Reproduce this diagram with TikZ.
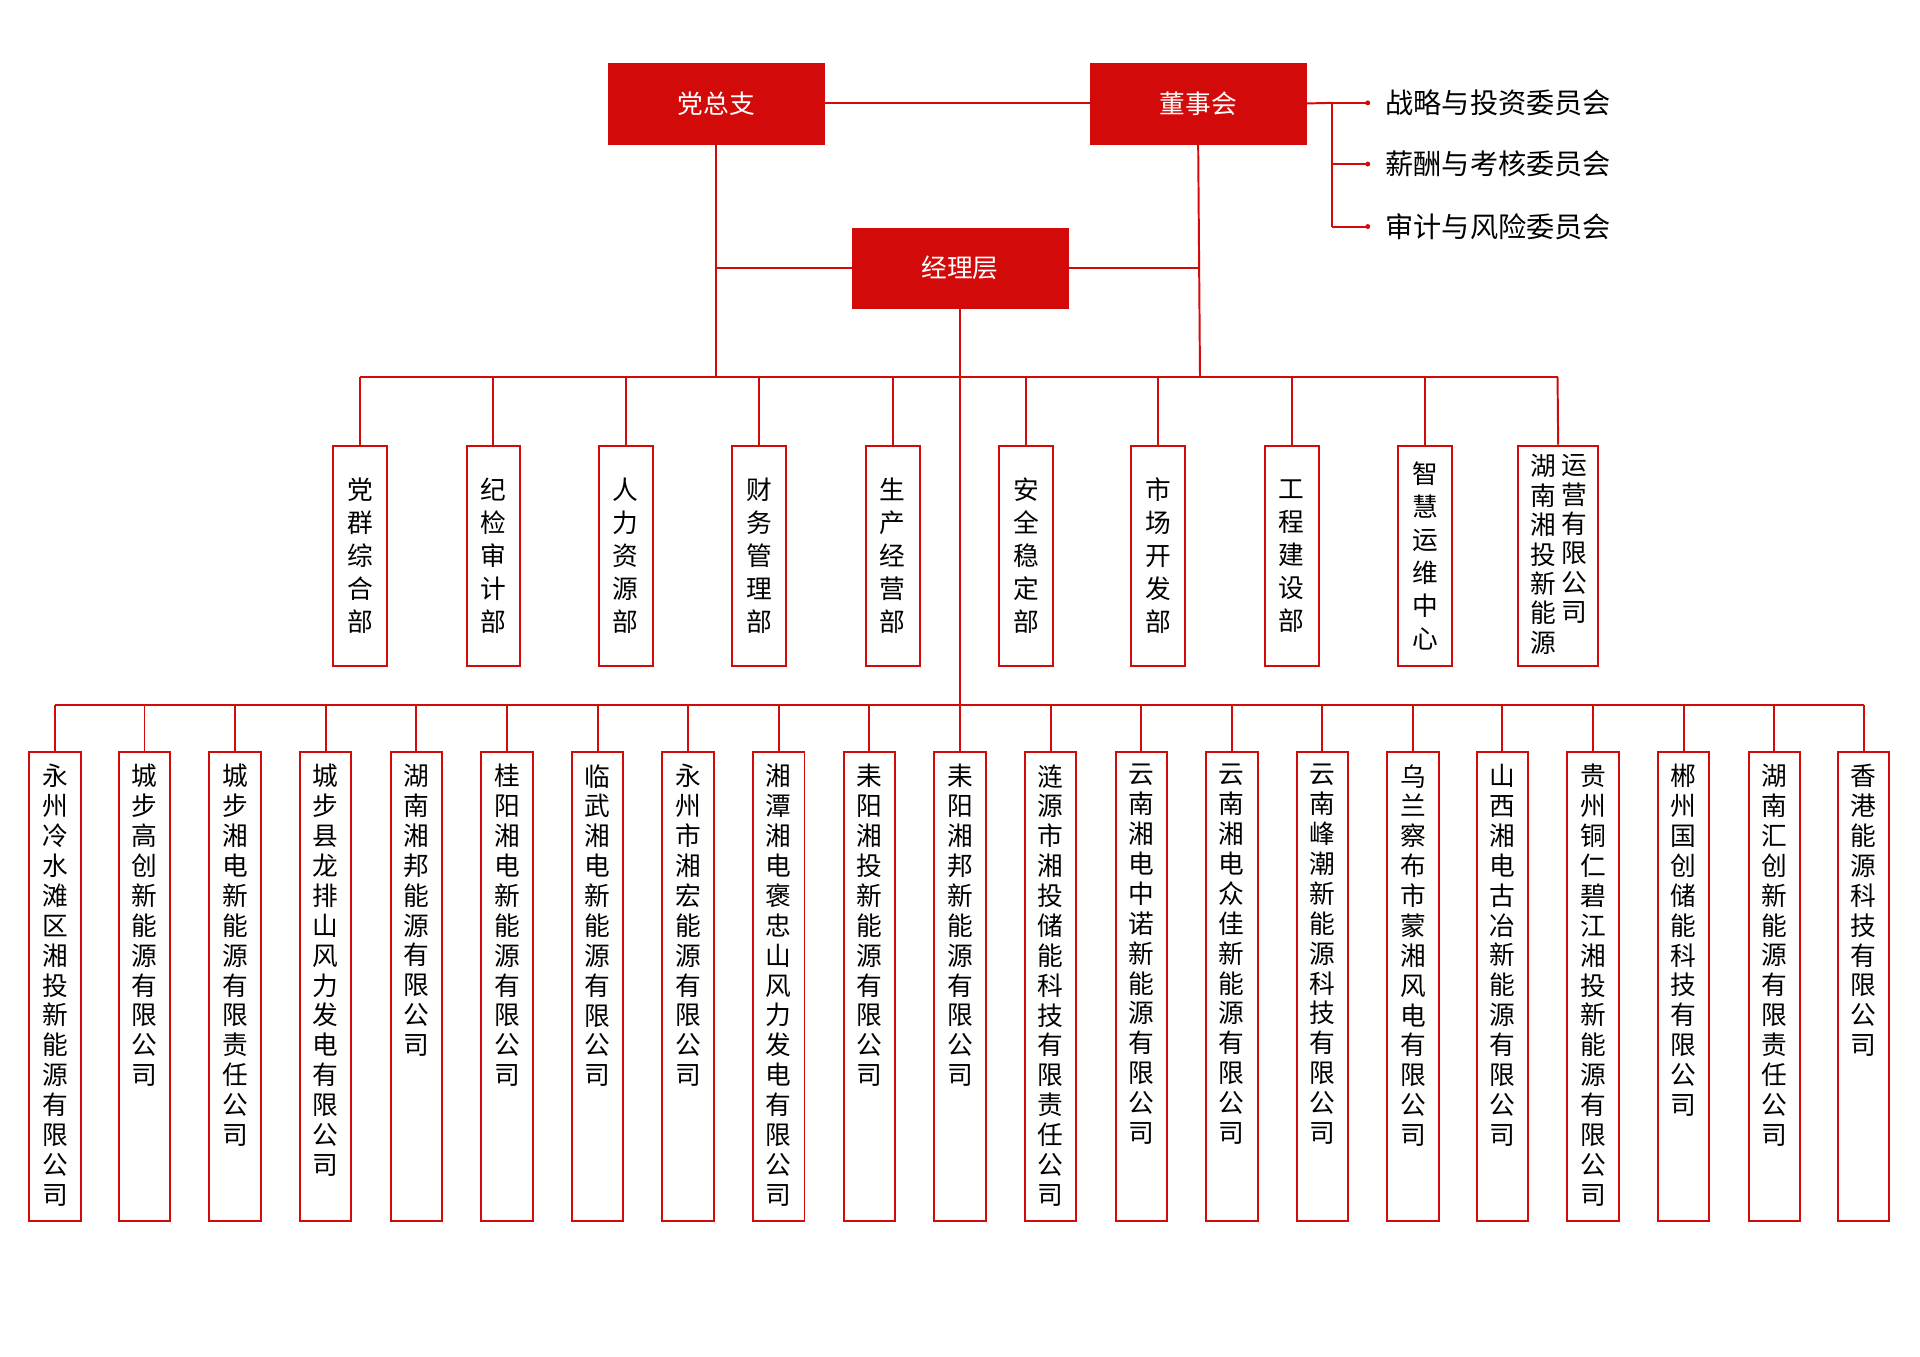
\documentclass[tikz,border=0pt]{standalone}
\usepackage{fontspec}
\setmainfont{Noto Sans CJK SC}
\ExplSyntaxOn
\cs_new_protected:Npn \vtxt #1 {\tl_set:Nx \l_tmpa_tl {#1}\tl_map_inline:Nn \l_tmpa_tl {##1\par}}
\ExplSyntaxOff
\definecolor{hred}{HTML}{D20A0A}
\tikzset{
  rbox/.style={fill=hred,draw=hred,text=white,minimum width=176pt,minimum height=66pt,font=\fontsize{21}{24}\selectfont},
  dbox/.style={draw=hred,line width=1.6pt,fill=white,minimum width=44pt,minimum height=180pt,inner sep=0pt},
  sbox/.style={draw=hred,line width=1.6pt,fill=white,minimum width=42pt,minimum height=383pt,inner sep=0pt},
  dtxt/.style={text width=24pt,align=center,inner sep=0pt,font=\fontsize{21}{27}\selectfont},
  stxt/.style={text width=24pt,align=center,inner sep=0pt,font=\fontsize{21}{24.4}\selectfont,anchor=north},
  ln/.style={draw=hred,line width=1.6pt},
}
\begin{document}
\begin{tikzpicture}[x=1pt,y=-1pt]
\useasboundingbox (0,0) rectangle (1568,1108);
\node[rbox] (dzz) at (585,84.5) {党总支};
\node[rbox] (dsh) at (978.5,84.5) {董事会};
\node[rbox] (jlc) at (784,219) {经理层};
\draw[ln] (dzz) -- (dsh);
% committees
\coordinate (cb) at (1088,84);
\draw[ln] (dsh.east) -- (cb);
\foreach \yy/\t [count=\i] in {84/战略与投资委员会,134/薪酬与考核委员会,185/审计与风险委员会}{
  \coordinate (cs\i) at (1088,\yy);
  \coordinate (ce\i) at (1117,\yy);
  \draw[ln] (cs\i) -- (ce\i);
  \fill[hred] (ce\i) circle (2pt);
  \node[anchor=west,font=\fontsize{23}{26}\selectfont] (cm\i) at (1128,\yy) {\t};
}
\draw[ln] (cb) -- (cs3);
% trunk lines
\coordinate (bL) at (585,308);
\coordinate (bR) at (980,308);
\draw[ln] (dzz.south) -- (bL);
\draw[ln] (dsh.south) -- (bR);
\draw[ln] (jlc.west) -- (585,219);
\draw[ln] (jlc.east) -- (980,219);
\coordinate (sb) at (784,576);
\draw[ln] (jlc.south) -- (sb);
% departments
\draw[ln] (294,308) -- (1272,308);
\foreach \xx/\t [count=\i] in {294/党群综合部,403/纪检审计部,511/人力资源部,620/财务管理部,729/生产经营部,838/安全稳定部,946/市场开发部,1055/工程建设部,1164/智慧运维中心}{
  \node[dbox] (d\i) at (\xx,454) {};
  \draw[ln] (\xx,308) -- (d\i.north);
  \node[dtxt] at (d\i.center) {\vtxt{\t}};
}
\node[dbox,minimum width=65pt] (d10) at (1272.5,454) {};
\draw[ln] (1272,308) -- (d10.north);
\node[stxt,font=\fontsize{21}{24}\selectfont] at (1260,371) {\vtxt{湖南湘投新能源}};
\node[stxt,font=\fontsize{21}{24}\selectfont] at (1286,371) {\vtxt{运营有限公司}};
% subsidiaries
\draw[ln] (45,576) -- (1522,576);
\foreach \xx/\t [count=\i] in {45/永州冷水滩区湘投新能源有限公司,118/城步高创新能源有限公司,192/城步湘电新能源有限责任公司,266/城步县龙排山风力发电有限公司,340/湖南湘邦能源有限公司,414/桂阳湘电新能源有限公司,488/临武湘电新能源有限公司,562/永州市湘宏能源有限公司,636/湘潭湘电褒忠山风力发电有限公司,710/耒阳湘投新能源有限公司,784/耒阳湘邦新能源有限公司,858/涟源市湘投储能科技有限责任公司,932/云南湘电中诺新能源有限公司,1006/云南湘电众佳新能源有限公司,1080/云南峰潮新能源科技有限公司,1154/乌兰察布市蒙湘风电有限公司,1227/山西湘电古冶新能源有限公司,1301/贵州铜仁碧江湘投新能源有限公司,1375/郴州国创储能科技有限公司,1449/湖南汇创新能源有限责任公司,1522/香港能源科技有限公司}{
  \node[sbox] (s\i) at (\xx,805.5) {};
  \draw[ln] (\xx,576) -- (s\i.north);
  \node[stxt] at (\xx,624) {\vtxt{\t}};
}
\end{tikzpicture}
\end{document}
